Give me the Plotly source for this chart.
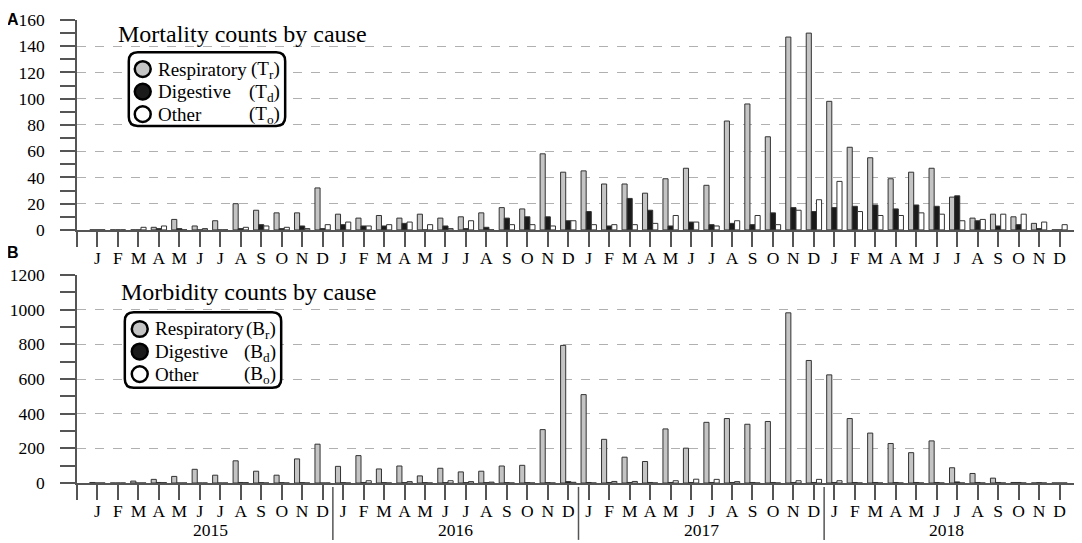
import plotly.graph_objects as go
from plotly.subplots import make_subplots

# 월별 카테고리 (2015-2018)
years = ["2015", "2016", "2017", "2018"]
month_labels = ["J", "F", "M", "A", "M", "J", "J", "A", "S", "O", "N", "D"]
months = list(range(len(years) * len(month_labels)))

# A: mortality counts
resp_T = [0, 0, 0, 2, 8, 3, 7, 20, 15, 13, 13, 32,
          12, 9, 11, 9, 12, 9, 10, 13, 17, 16, 58, 44,
          45, 35, 35, 28, 39, 47, 34, 83, 96, 71, 147, 150,
          98, 63, 55, 39, 44, 47, 25, 9, 12, 10, 5, 0]
dig_T = [0, 0, 0, 1, 1, 0, 0, 1, 4, 1, 3, 1,
         4, 3, 3, 5, 0, 3, 1, 2, 9, 10, 10, 7,
         14, 3, 24, 15, 3, 6, 4, 5, 4, 13, 17, 14,
         17, 18, 19, 16, 19, 18, 26, 7, 3, 4, 1, 0]
oth_T = [0, 0, 2, 3, 0, 1, 0, 2, 3, 2, 1, 4,
         6, 3, 4, 6, 4, 1, 7, 0, 4, 4, 3, 7,
         4, 4, 4, 5, 11, 6, 3, 7, 11, 4, 15, 23,
         37, 14, 11, 11, 13, 12, 7, 8, 12, 12, 6, 4]

# B: morbidity counts
resp_B = [3, 0, 11, 21, 38, 79, 45, 128, 68, 45, 139, 224,
          96, 158, 81, 98, 41, 85, 64, 68, 98, 102, 308, 794,
          510, 252, 149, 124, 312, 201, 350, 372, 339, 355, 982, 707,
          624, 372, 288, 228, 175, 243, 88, 55, 28, 3, 0, 0]
dig_B = [0, 0, 0, 3, 0, 0, 0, 3, 2, 2, 2, 0,
         2, 3, 2, 2, 2, 2, 2, 2, 2, 2, 2, 8,
         3, 3, 3, 3, 3, 3, 3, 3, 3, 3, 3, 3,
         3, 3, 3, 3, 3, 3, 6, 3, 3, 3, 2, 0]
oth_B = [0, 0, 0, 2, 0, 0, 0, 2, 0, 0, 0, 0,
         0, 13, 0, 8, 0, 13, 8, 5, 0, 0, 0, 4,
         0, 9, 9, 0, 13, 22, 21, 8, 0, 0, 13, 21,
         13, 0, 0, 0, 0, 0, 0, 0, 0, 0, 0, 0]

# 페이지 좌표 기준 (body 기본 여백 8px 보정)
PAGE_OFF = 8
W, H = 1082 - PAGE_OFF, 543 - PAGE_OFF
PLOT_L, PLOT_R, PLOT_T, PLOT_B = 73, 1080, 11, 483   # 페이지 픽셀
PW, PH = PLOT_R - PLOT_L, PLOT_B - PLOT_T
ML = PLOT_L - PAGE_OFF
MT = PLOT_T - PAGE_OFF
MR = W - (PLOT_R - PAGE_OFF)
MB = H - (PLOT_B - PAGE_OFF)

SERIF = "Liberation Serif"
AXIS_COL = "#555555"
GREY = "#c4c4c4"
EDGE = "#333333"


def px_x(px):
    return (px - PLOT_L) / PW


def px_y(py):
    return (PLOT_B - py) / PH


fig = make_subplots(rows=2, cols=1)

series = [
    (resp_T, resp_B, "Respiratory", GREY),
    (dig_T, dig_B, "Digestive", "#1a1a1a"),
    (oth_T, oth_B, "Other", "#ffffff"),
]
for vals_t, vals_b, name, color in series:
    for row, vals in ((1, vals_t), (2, vals_b)):
        fig.add_trace(
            go.Bar(x=months, y=vals, name=name, showlegend=False,
                   marker=dict(color=color, line=dict(color=EDGE, width=1))),
            row=row, col=1
        )

tickvals = list(range(-1, len(months) + 1))
ticktext = [""] + month_labels * len(years) + [""]

xaxis_style = dict(
    range=[-1, len(months)], tickmode="array", tickvals=tickvals, ticktext=ticktext,
    ticks="outside", ticklen=15, tickwidth=1.5, tickcolor=AXIS_COL,
    showline=True, linecolor=AXIS_COL, linewidth=1.5,
    showgrid=False, zeroline=False, ticklabelstandoff=-4,
    tickfont=dict(family=SERIF, size=17.5, color="black"),
)


def yaxis_style(top, step):
    return dict(
        range=[0, top], tick0=0, dtick=step,
        ticks="outside", ticklen=15, tickwidth=1.5, tickcolor=AXIS_COL,
        minor=dict(dtick=step / 2, tick0=0, ticks="outside", ticklen=15,
                   tickwidth=1.5, tickcolor=AXIS_COL, showgrid=False),
        showline=True, linecolor=AXIS_COL, linewidth=1.5,
        showgrid=True, gridcolor="#b0b0b0", griddash="dash", gridwidth=1,
        zeroline=False, ticklabelstandoff=12,
        tickfont=dict(family=SERIF, size=17.5, color="black"),
    )


fig.update_layout(
    width=W, height=H,
    margin=dict(l=ML, r=MR, t=MT, b=MB),
    paper_bgcolor="white", plot_bgcolor="white",
    barmode="group", bargap=0.25, bargroupgap=0,
    showlegend=False,
    xaxis=dict(domain=[0, 1], anchor="y", **xaxis_style),
    xaxis2=dict(domain=[0, 1], anchor="y2", **xaxis_style),
    yaxis=dict(domain=[px_y(225), 1], anchor="x", **yaxis_style(160, 20)),
    yaxis2=dict(domain=[0, px_y(271)], anchor="x2", **yaxis_style(1200, 200)),
)

shapes = []
annotations = []


def rounded_box(x0, y0, x1, y1, r):
    ax0, ax1 = px_x(x0), px_x(x1)
    ay0, ay1 = px_y(y1), px_y(y0)  # bottom, top
    rx, ry = r / PW, r / PH
    return (f"M {ax0 + rx},{ay1} L {ax1 - rx},{ay1} Q {ax1},{ay1} {ax1},{ay1 - ry} "
            f"L {ax1},{ay0 + ry} Q {ax1},{ay0} {ax1 - rx},{ay0} "
            f"L {ax0 + rx},{ay0} Q {ax0},{ay0} {ax0},{ay0 + ry} "
            f"L {ax0},{ay1 - ry} Q {ax0},{ay1} {ax0 + rx},{ay1} Z")


def add_legend(box, circ_x, rows_y, text_x, sym_right, letter):
    shapes.append(dict(type="path", path=rounded_box(*box, 9), xref="paper", yref="paper",
                       fillcolor="white", line=dict(color="black", width=2.5), layer="above"))
    subs = ["r", "d", "o"]
    for (vals_t, vals_b, name, color), cy, sub in zip(series, rows_y, subs):
        rad = 8
        shapes.append(dict(type="circle", xref="paper", yref="paper",
                           x0=px_x(circ_x - rad), x1=px_x(circ_x + rad),
                           y0=px_y(cy + rad), y1=px_y(cy - rad),
                           fillcolor=color, line=dict(color="black", width=2.5), layer="above"))
        annotations.append(dict(text=name, x=px_x(text_x), y=px_y(cy), xref="paper", yref="paper",
                                xanchor="left", yanchor="middle", showarrow=False,
                                font=dict(family=SERIF, size=19, color="black")))
        annotations.append(dict(text=f"({letter}<sub>{sub}</sub>)", x=px_x(sym_right), y=px_y(cy + 1),
                                xref="paper", yref="paper", xanchor="right", yanchor="middle",
                                showarrow=False, font=dict(family=SERIF, size=19, color="black")))


add_legend((125, 44, 282, 119), 139, [61, 84, 107], 152, 279, "T")
add_legend((121, 309, 278, 386), 136, [326, 349, 372], 149, 275, "B")

# 패널 제목
annotations.append(dict(text="Mortality counts by cause", x=px_x(112), y=px_y(25), xref="paper", yref="paper",
                        xanchor="left", yanchor="middle", showarrow=False,
                        font=dict(family=SERIF, size=24, color="black")))
annotations.append(dict(text="Morbidity counts by cause", x=px_x(115), y=px_y(288), xref="paper", yref="paper",
                        xanchor="left", yanchor="middle", showarrow=False,
                        font=dict(family=SERIF, size=24, color="black")))
for lab, py in (("A", 10), ("B", 248)):
    annotations.append(dict(text=f"<b>{lab}</b>", x=px_x(9), y=px_y(py), xref="paper", yref="paper",
                            xanchor="center", yanchor="middle", showarrow=False,
                            font=dict(family="Liberation Sans", size=16, color="black")))

# 연도 라벨과 구분선
n = len(month_labels)
for i, yr in enumerate(years):
    annotations.append(dict(text=yr, x=i * n + (n - 1) / 2, xref="x2", y=px_y(531), yref="paper",
                            xanchor="center", yanchor="middle", showarrow=False,
                            font=dict(family=SERIF, size=17.5, color="black")))
    if i > 0:
        shapes.append(dict(type="line", xref="x2", yref="paper", x0=i * n - 0.5, x1=i * n - 0.5,
                           y0=px_y(487), y1=px_y(541), line=dict(color=AXIS_COL, width=1.5)))

fig.update_layout(shapes=shapes, annotations=annotations)

fig.write_html("out.html")
